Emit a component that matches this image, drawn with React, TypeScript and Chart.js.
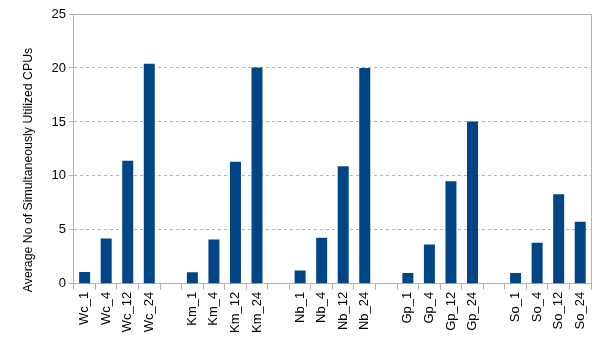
import React, { useEffect, useRef } from "react";
import { Chart, registerables } from "chart.js";

Chart.register(...registerables);

const categories = [
  "Wc_1", "Wc_4", "Wc_12", "Wc_24", "",
  "Km_1", "Km_4", "Km_12", "Km_24", "",
  "Nb_1", "Nb_4", "Nb_12", "Nb_24", "",
  "Gp_1", "Gp_4", "Gp_12", "Gp_24", "",
  "So_1", "So_4", "So_12", "So_24",
];

const cpuValues = [
  1.1, 4.2, 11.4, 20.4, null,
  1.08, 4.1, 11.3, 20.05, null,
  1.24, 4.27, 10.9, 20.0, null,
  1.0, 3.65, 9.5, 15.05, null,
  1.0, 3.8, 8.3, 5.76,
];

const yTicks = [0, 5, 10, 15, 20, 25];

const yTitle = "Average No of Simultaneously Utilized CPUs";

const frame = {
  id: "frame",
  beforeDatasetsDraw(chart: any) {
    const { ctx, chartArea } = chart;
    ctx.save();
    ctx.strokeStyle = "#b3b3b3";
    ctx.lineWidth = 1;
    ctx.setLineDash([]);
    ctx.beginPath();
    ctx.moveTo(Math.round(chartArea.left) + 0.5, Math.round(chartArea.top) + 0.5);
    ctx.lineTo(Math.round(chartArea.right) + 0.5, Math.round(chartArea.top) + 0.5);
    ctx.lineTo(Math.round(chartArea.right) + 0.5, Math.round(chartArea.bottom) + 0.5);
    ctx.stroke();
    ctx.restore();
  },
  afterDraw(chart: any) {
    const { ctx } = chart;
    ctx.save();
    ctx.translate(28.5, chart.height / 2);
    ctx.rotate(-Math.PI / 2);
    ctx.fillStyle = "#000";
    ctx.font = "12.3px 'Liberation Sans'";
    ctx.textAlign = "center";
    ctx.textBaseline = "middle";
    ctx.fillText(yTitle, 0, 0);
    ctx.restore();
  },
};

export default function App() {
  const ref = useRef<HTMLCanvasElement | null>(null);
  useEffect(() => {
    document.body.style.margin = "0";
    const chart = new Chart(ref.current!, {
      type: "bar",
      data: {
        labels: categories,
        datasets: [
          {
            data: cpuValues as any,
            backgroundColor: "#004586",
            borderWidth: 0,
            categoryPercentage: 1,
            barPercentage: 0.51,
          },
        ],
      },
      plugins: [frame],
      options: {
        animation: false,
        responsive: false,
        maintainAspectRatio: false,
        layout: { padding: { left: 22, right: 13, top: 14, bottom: 5 } },
        plugins: { legend: { display: false }, tooltip: { enabled: false } },
        scales: {
          x: {
            grid: {
              drawOnChartArea: false,
              drawTicks: true,
              tickLength: 6,
              color: "#b3b3b3",
              offset: true,
            },
            border: { color: "#b3b3b3" },
            ticks: {
              maxRotation: 90,
              minRotation: 90,
              autoSkip: false,
              color: "#000",
              padding: 2,
              font: { family: "Liberation Sans", size: 13 },
            },
          },
          y: {
            min: 0,
            max: 25,
            afterBuildTicks: (axis: any) => {
              axis.ticks = yTicks.map((v) => ({ value: v }));
            },
            grid: {
              color: "#b3b3b3",
              tickLength: 5,
              drawTicks: true,
            },
            border: { color: "#b3b3b3", dash: [3, 3] },
            ticks: {
              color: "#000",
              padding: 3,
              font: { family: "Liberation Sans", size: 13 },
            },
            title: {
              display: true,
              text: yTitle,
              color: "rgba(0,0,0,0)",
              font: { family: "Liberation Sans", size: 12 },
              padding: { top: 0, bottom: 12 },
            },
          },
        },
      },
    });
    return () => chart.destroy();
  }, []);
  return (
    <div style={{ position: "absolute", left: 0, top: 0, width: 604, height: 340 }}>
      <canvas ref={ref} width={604} height={340} style={{ width: 604, height: 340 }} />
    </div>
  );
}
